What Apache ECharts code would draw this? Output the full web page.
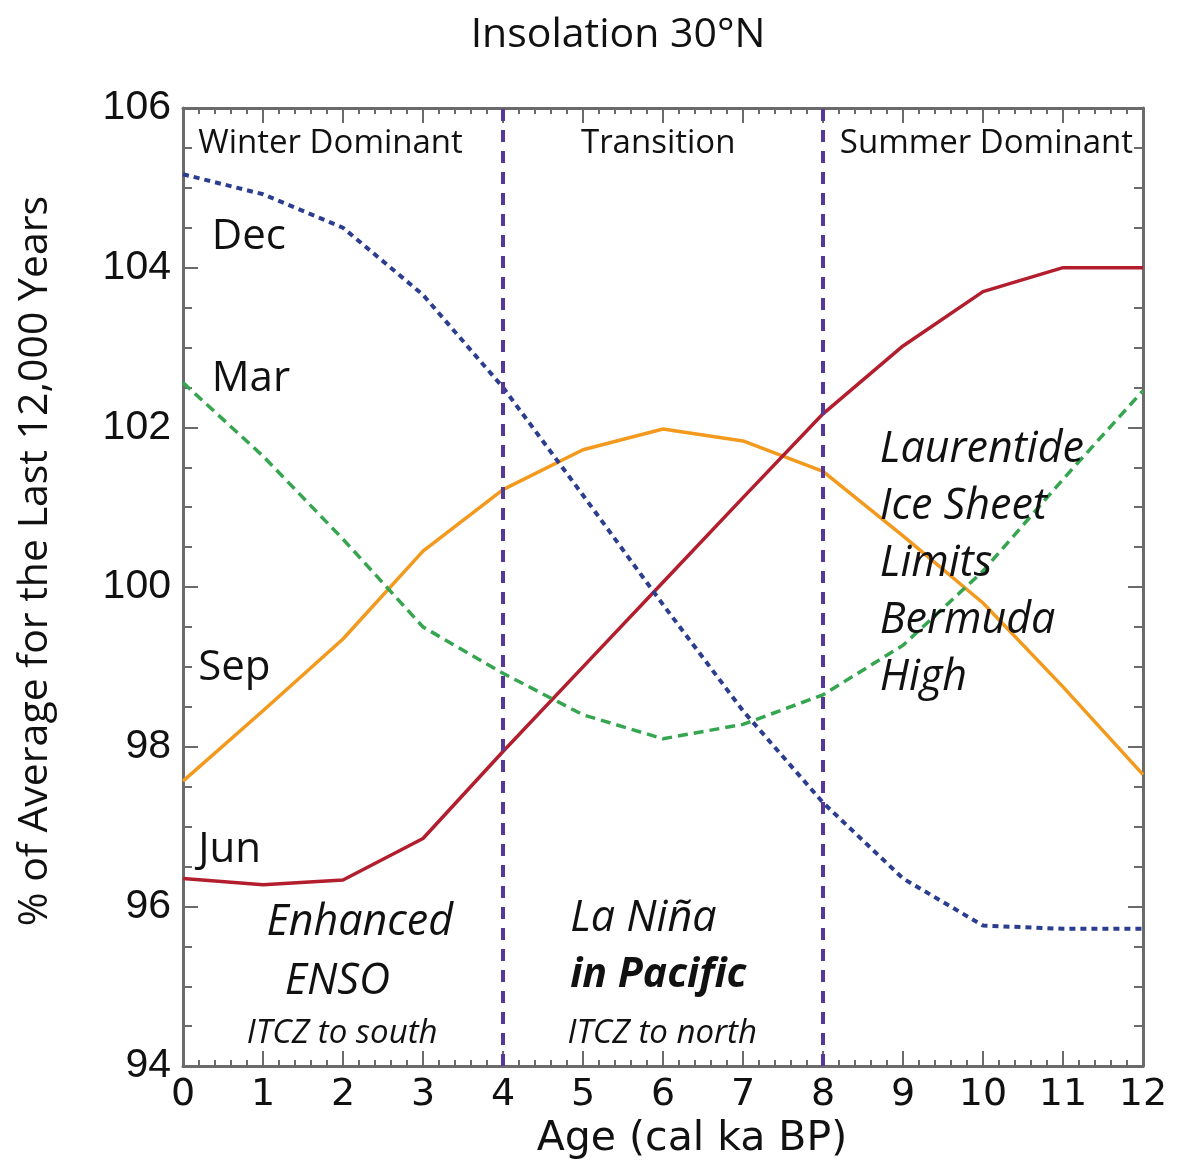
<!DOCTYPE html>
<html>
<head>
<meta charset="utf-8">
<script src="https://cdn.jsdelivr.net/npm/echarts@6/dist/echarts.min.js"></script>
<style>
  html, body { margin: 0; padding: 0; background: #fff; }
  #chart { width: 1182px; height: 1165px; }
</style>
</head>
<body>
<div id="chart"></div>
<script>
// ages in ka BP, values in % of 12 ka mean
const ages = [0, 1, 2, 3, 4, 5, 6, 7, 8, 9, 10, 11, 12];
const dec = [105.17, 104.92, 104.5, 103.66, 102.5, 101.15, 99.78, 98.45, 97.3, 96.35, 95.76, 95.72, 95.72];
const mar = [102.56, 101.64, 100.6, 99.5, 98.92, 98.4, 98.1, 98.28, 98.65, 99.27, 100.2, 101.35, 102.46];
const sep = [97.57, 98.45, 99.35, 100.45, 101.22, 101.72, 101.98, 101.83, 101.45, 100.64, 99.8, 98.75, 97.65];
const jun = [96.35, 96.27, 96.33, 96.85, 97.94, 99.0, 100.06, 101.12, 102.17, 103.02, 103.7, 104.0, 104.0];
const boundaries = [4, 8];

// text notes placed in data units
const notes = [
  { text: 'Winter Dominant', at: [0.19, 105.56], kind: 'zone', anchor: 'left' },
  { text: 'Transition', at: [5.94, 105.56], kind: 'zone', anchor: 'center' },
  { text: 'Summer Dominant', at: [8.21, 105.56], kind: 'zone', anchor: 'left' },
  { text: 'Dec', at: [0.36, 104.39], kind: 'month', anchor: 'left' },
  { text: 'Mar', at: [0.36, 102.6], kind: 'month', anchor: 'left' },
  { text: 'Sep', at: [0.19, 98.98], kind: 'month', anchor: 'left' },
  { text: 'Jun', at: [0.19, 96.7], kind: 'month', anchor: 'left' },
  { text: 'Enhanced', at: [2.21, 95.79], kind: 'big', anchor: 'center' },
  { text: 'ENSO', at: [1.93, 95.06], kind: 'big', anchor: 'center' },
  { text: 'ITCZ to south', at: [1.99, 94.41], kind: 'small', anchor: 'center' },
  { text: 'La Niña', at: [4.84, 95.85], kind: 'big', anchor: 'left' },
  { text: 'in Pacific', at: [4.84, 95.14], kind: 'bigBold', anchor: 'left' },
  { text: 'ITCZ to north', at: [5.99, 94.41], kind: 'small', anchor: 'center' },
  { text: 'Laurentide\nIce Sheet\nLimits\nBermuda\nHigh', at: [8.71, 100.29], kind: 'big', anchor: 'left' }
];

const ink = '#111';
const noteStyles = {
  zone: { fontFamily: 'Open Sans', fontSize: 33, color: ink },
  month: { fontFamily: 'Open Sans', fontSize: 42, color: ink },
  big: { fontFamily: 'Open Sans', fontSize: 43, fontStyle: 'italic', color: ink, lineHeight: 57 },
  bigBold: { fontFamily: 'Open Sans', fontSize: 41, fontStyle: 'italic', fontWeight: 'bold', color: ink },
  small: { fontFamily: 'Open Sans', fontSize: 33, fontStyle: 'italic', color: ink }
};

const gray = '#6b6b6b';
const pair = (ys) => ages.map((a, i) => [a, ys[i]]);

const xAxisBase = (position, showLabel) => ({
  type: 'value',
  position,
  min: 0,
  max: 12,
  interval: 1,
  splitLine: { show: false },
  axisLine: { show: true, onZero: false, lineStyle: { color: gray, width: 3 } },
  axisTick: { show: true, inside: true, length: 15, lineStyle: { color: gray, width: 2 } },
  minorTick: { show: true, splitNumber: 5, length: 6, lineStyle: { color: gray, width: 2 } },
  axisLabel: {
    show: showLabel,
    margin: 10,
    fontFamily: 'DejaVu Sans',
    fontSize: 38,
    color: ink
  }
});

const yAxisBase = (position, showLabel) => ({
  type: 'value',
  position,
  min: 94,
  max: 106,
  interval: 2,
  splitLine: { show: false },
  axisLine: { show: true, onZero: false, lineStyle: { color: gray, width: 3 } },
  axisTick: { show: true, inside: true, length: 15, lineStyle: { color: gray, width: 2 } },
  minorTick: { show: true, splitNumber: 4, length: 9, lineStyle: { color: gray, width: 2 } },
  axisLabel: {
    show: showLabel,
    margin: 12,
    fontFamily: 'Liberation Sans',
    fontSize: 41,
    color: ink
  }
});

const bottomX = Object.assign(xAxisBase('bottom', true), {
  name: 'Age (cal ka BP)',
  nameLocation: 'middle',
  nameGap: 48,
  nameTextStyle: { fontFamily: 'DejaVu Sans', fontSize: 41, color: ink, padding: [0, 0, 0, 58] }
});
const leftY = Object.assign(yAxisBase('left', true), {
  name: '% of Average for the Last 12,000 Years',
  nameLocation: 'middle',
  nameGap: 127,
  nameTextStyle: { fontFamily: 'Open Sans', fontSize: 41, color: ink, padding: [0, 0, 0, 52] }
});

const lineSeries = (name, ys, color, type, width) => ({
  name,
  type: 'line',
  data: pair(ys),
  xAxisIndex: 0,
  yAxisIndex: 0,
  showSymbol: false,
  smooth: false,
  lineStyle: { color, type, width },
  silent: true
});

const junSeries = lineSeries('Jun', jun, '#b31e2e', 'solid', 3.5);
junSeries.markLine = {
  silent: true,
  symbol: 'none',
  label: { show: false },
  lineStyle: { color: '#55389a', type: [12, 9], width: 4 },
  data: boundaries.map((b) => ({ xAxis: b }))
};

const noteSeries = {
  type: 'scatter',
  xAxisIndex: 0,
  yAxisIndex: 0,
  symbolSize: 0,
  silent: true,
  z: 5,
  itemStyle: { opacity: 1 },
  data: notes.map((n) => ({
    value: n.at,
    label: Object.assign({
      show: true,
      formatter: n.text,
      position: n.anchor === 'left' ? 'right' : 'inside',
      distance: 0,
      align: n.anchor === 'left' ? 'left' : 'center',
      verticalAlign: 'middle',
      opacity: 1
    }, noteStyles[n.kind])
  }))
};

const chart = echarts.init(document.getElementById('chart'));
chart.setOption({
  animation: false,
  backgroundColor: '#fff',
  title: {
    text: 'Insolation 30°N',
    left: 613,
    top: 10,
    textAlign: 'center',
    textStyle: { fontFamily: 'Open Sans', fontWeight: 'normal', fontSize: 41, color: ink }
  },
  grid: { left: 183, top: 108, width: 960, height: 960, containLabel: false },
  xAxis: [bottomX, xAxisBase('top', false)],
  yAxis: [leftY, yAxisBase('right', false)],
  series: [
    lineSeries('Sep', sep, '#f39a1e', 'solid', 3.5),
    junSeries,
    lineSeries('Mar', mar, '#35a550', [10, 6], 3.5),
    lineSeries('Dec', dec, '#2b3d8f', [6, 5], 4),
    noteSeries
  ]
});
</script>
</body>
</html>
